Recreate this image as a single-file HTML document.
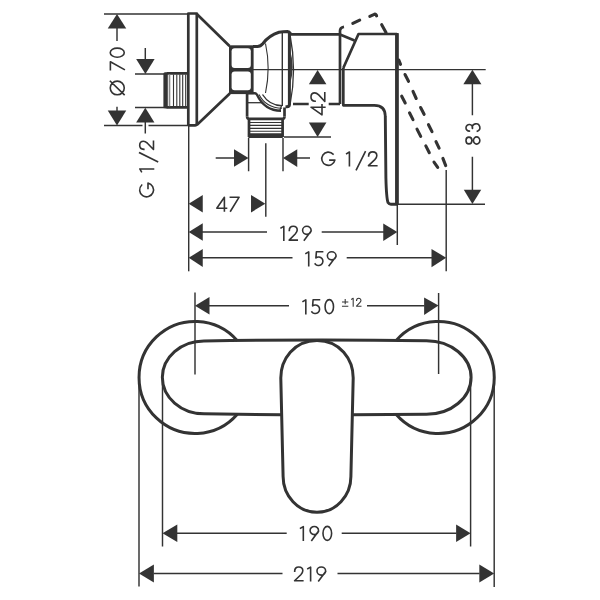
<!DOCTYPE html>
<html><head><meta charset="utf-8">
<style>
html,body{margin:0;padding:0;background:#fff;width:600px;height:600px;overflow:hidden}
svg{display:block}
</style></head><body>
<svg width="600" height="600" viewBox="0 0 600 600">
<rect width="600" height="600" fill="#fff"/>
<g fill="none" stroke="#333" stroke-width="1.45">
  <path d="M104 13.9H188"/>
  <path d="M104 125.5H142.5M148.5 125.5H188"/>
  <path d="M117 28V41M117 106.7V111"/>
  <path d="M135 73.9H164M135 107.5H164"/>
  <path d="M145.3 48V59M145.3 122V133.5"/>
  <path d="M188.7 125V271.3"/>
  <path d="M265.8 143.3V216.7"/>
  <path d="M248.6 138V171.3M283 138V171.3"/>
  <path d="M215.7 158H235M297 158H310"/>
  <path d="M284 137H331"/>
  <path d="M252 69.6H485.7"/>
  <path d="M472.4 84V115.3M472.4 156.7V190"/>
  <path d="M397 204.2H485"/>
  <path d="M397.3 204V245M446.2 170V271.2"/>
  <path d="M202 232H267M321.7 232H384"/>
  <path d="M202 257.8H292.5M346.7 257.8H432"/>
  <path d="M195 292.5V374.5M438.6 293V374"/>
  <path d="M209 305.8H289M367 305.8H424.5"/>
  <path d="M162.5 378V546.4M139 378V586.4M470.6 378V546.4M494.2 378V587"/>
  <path d="M177 533.3H286.7M341.7 533.3H456.5"/>
  <path d="M153.6 573.4H282.5M337.5 573.4H479.6"/>
</g>
<g fill="#333">
  <polygon points="117,13.9 107.76,28.49 126.24,28.49"/>
  <polygon points="117,125.5 107.76,110.51 126.24,110.51"/>
  <polygon points="145.4,73.9 136.16,58.91 154.64,58.91"/>
  <polygon points="145.3,107.8 136.16,122.59 154.44,122.59"/>
  <polygon points="188.7,203.8 202.78,194.88 202.78,212.41"/>
  <polygon points="265.3,203.8 251.02,194.88 251.02,212.41"/>
  <polygon points="188.7,232 202.78,223.28 202.78,240.72"/>
  <polygon points="188.7,257.8 202.78,249.08 202.78,266.93"/>
  <polygon points="248.5,158 234.02,149.28 234.02,166.72"/>
  <polygon points="283,158 297.28,149.18 297.28,167.03"/>
  <polygon points="317.6,70 308.88,84.28 326.42,84.28"/>
  <polygon points="317.6,137 308.88,122.41 326.42,122.41"/>
  <polygon points="472.4,69.7 463.37,84.29 481.43,84.29"/>
  <polygon points="472.4,204 463.79,189.72 481.22,189.72"/>
  <polygon points="397.3,232 383.22,223.59 383.22,240.92"/>
  <polygon points="446.2,257.7 431.51,249.08 431.51,267.14"/>
  <polygon points="195,305.8 209.48,297.08 209.48,314.62"/>
  <polygon points="438.5,305.6 424.12,297.6 424.12,315.03"/>
  <polygon points="162.5,533.3 177.29,524.59 177.29,542.01"/>
  <polygon points="139,573.4 153.89,564.58 153.89,582.43"/>
  <polygon points="470.6,533.3 456.12,524.59 456.12,542.01"/>
  <polygon points="494.2,573.5 479.31,564.58 479.31,582.42"/>
</g>
<!-- side view object -->
<g fill="none" stroke="#333" stroke-width="2.7" stroke-linejoin="round">
  <path d="M188.3 125.3V13.5H196.8V123.5Q196.8 125.3 195 125.3H188.3"/>
  <path d="M196.8 14L229.5 46M196.8 125L229.8 93.6"/>
  <path d="M188 73.3H166.5M188 107.4H166.5"/>
  <path d="M253 46.5H257.5Q260.5 46.5 263 43.5Q269 35.5 279 32.3Q283 31.5 287.5 31.5Q289.4 31.7 289.4 34V104.5Q289.4 106.8 287 106.8H285.5" stroke-width="3"/>
  <path d="M288.5 31.6L291.6 34.4H340"/>
  <path d="M293 104H308.7M328.7 104H340"/>
  <path d="M246 93.2H255Q256.5 93.4 257 94.8C259.5 100 266 110.8 281 110.8" stroke-width="2.4"/>
  <path d="M247.1 116.5V93"/>
  <path d="M284.5 107.5V116.5"/>
  <path d="M247.1 116.5Q247.1 118.8 249.2 118.8H282.4Q284.5 118.8 284.5 116.5M249 118.8V137M282.6 118.8V137"/>
  <path d="M340 104V31Q340 27.6 344 26.9"/>
  <path d="M343.3 68V105.3H374.3Q385.3 105.3 385.3 116.3"/>
  <path d="M340 34.5L354.5 40.5"/>
  <path d="M343.3 68L358.5 34H397"/>
  <path d="M397 34V204.2H391Q389 204.2 388 202.5Q386.4 198 385.9 178L385.3 116" stroke-width="2.9"/>
</g>
<rect x="163.4" y="72.3" width="4.4" height="36.2" rx="1.6" fill="#333"/>
<rect x="395.1" y="33" width="3.6" height="171.6" fill="#333"/>
<g>
  <rect x="229" y="45.3" width="24.6" height="48.8" fill="#333"/>
  <rect x="231.6" y="48.2" width="19.2" height="19.8" rx="3" fill="#fff"/>
  <rect x="231.6" y="71.4" width="19.2" height="18.8" rx="3" fill="#fff"/>
</g>
<g fill="none" stroke="#333" stroke-width="1.1">
  <path d="M282.3 33V106" stroke-width="1.4"/>
  <path d="M290 34.5Q297 70 290 105" stroke-width="1.3"/><path d="M290 50Q295 66 290.3 84Z" fill="#3a3a3a" stroke="none"/><path d="M281.5 106L279.6 111" stroke-width="1.2"/>
  <path d="M265.5 43.5Q270.8 68 265.5 93"/>
  <path d="M169.5 74.5V106.3" stroke="#888" stroke-width="1.6"/>
  <path d="M173.5 74.5V106.3M176.8 74.5V106.3M179.8 74.5V106.3M182.7 74.5V106.3M185.7 74.5V106.3"/>
  <path d="M249 122.5H282.6M249 125.4H282.6M249 128.3H282.6M249 131.2H282.6" stroke-width="1.15"/>
  <path d="M247.5 102.7H262" stroke-width="1.3"/>
  <path d="M262.5 94.5C265 98.5 271 105.5 282 105.8" stroke-width="1.4"/><path d="M259 94.5C261.5 99.5 268 107.8 282 108.3"/>
</g>
<rect x="248" y="133.2" width="35.2" height="4.9" rx="1.6" fill="#333"/>
<!-- dashed lever -->
<g fill="none" stroke="#333" stroke-width="3.1" stroke-linecap="round" stroke-linejoin="round">
  <path d="M352.8 23.4L359.7 20.1M369.8 16.4L374.3 14.3Q375.6 13.9 376.3 15L376.6 15.9M381.7 24.7L386 32.5"/>
  <path d="M398.8 60.0L400.5 64.4M405.0 74.5L408.5 81.3M413.0 91.4L416.2 98.5M420.6 107.5L424.1 114.3M428.5 124.7L432.0 131.6M436.0 141.6L439.1 148.2M442.9 158.4L445.7 165.6"/>
  <path d="M401.7 96.2L405.2 103.0M409.5 112.8L413.0 119.6M417.0 129.1L420.7 136.4M425.8 145.9L429.3 152.7M434.0 162.1L437.7 167.4"/>
</g>
<!-- front view -->
<g fill="none" stroke="#333" stroke-width="3">
  <path d="M237.3 340.7A56 56 0 1 0 237.3 414.2"/>
  <path d="M396 340.7A56 56 0 1 1 396 414.2"/>
  <path d="M281 414.8Q241 414.3 204 413.8A41.6 36.4 0 0 1 204 340.9Q316 339.2 426.5 340.7A44.5 36.7 0 0 1 426.5 414.3Q389 414.6 352 414.8"/>
  <path d="M317 340.6C340 340.6 353.2 359.5 353.2 378L350.9 476.5C350.9 496 335.8 512.3 317 512.3C298.2 512.3 283.1 496 283.1 476.5L280.8 378C280.8 359.5 294 340.6 317 340.6Z"/>
</g>

<g fill="none" stroke="#333" stroke-width="1.6" stroke-linecap="square" stroke-linejoin="round">
<path transform="translate(216 196.4)" d="M8.4 14.65 V0.78 L0.78 11.8 H10.52"/>
<path transform="translate(229.6 196.4)" d="M0.78 0.78 H9.52 L0.98 14.65"/>
<path transform="translate(321 151.1)" d="M12.08 2.97 A6.62 6.62 0 1 0 13.88 9.03 H8.9"/>
<path transform="translate(345.9 151.1)" d="M0.78 2.5 L3.52 0.88 V14.6"/>
<path transform="translate(355.6 151.1)" d="M9.62 0.78 L0.78 18.6"/>
<path transform="translate(367.7 151.1)" d="M0.88 4.9 C0.88 2.2 2.78 0.78 5 0.78 C7.22 0.78 9.12 2.2 9.12 4.6 C9.12 6.3 8.22 7.3 7.12 8.5 L0.78 14.58 H9.12"/>
<path transform="translate(280.3 225.5)" d="M0.78 2.5 L3.52 0.88 V14.6"/>
<path transform="translate(288.4 225.5)" d="M0.88 4.9 C0.88 2.2 2.78 0.78 4.85 0.78 C6.92 0.78 8.82 2.2 8.82 4.6 C8.82 6.3 7.92 7.3 6.82 8.5 L0.78 14.58 H8.82"/>
<path transform="translate(301.8 225.5)" d="M0.78 4.83 A4.27 4.05 0 1 0 9.32 4.83 A4.27 4.05 0 1 0 0.78 4.83 Z M9.27 5.53 L2.5 14.6"/>
<path transform="translate(305.2 251)" d="M0.78 2.5 L3.52 0.88 V14.6"/>
<path transform="translate(314.3 251)" d="M8.27 0.78 H2.1 L1.6 6.9 A4.3 4.3 0 1 1 0.9 12.9"/>
<path transform="translate(326.6 251)" d="M0.78 4.83 A4.32 4.05 0 1 0 9.42 4.83 A4.32 4.05 0 1 0 0.78 4.83 Z M9.37 5.53 L2.5 14.6"/>
<path transform="translate(302.3 299)" d="M0.78 2.5 L3.52 0.88 V14.6"/>
<path transform="translate(311 299)" d="M8.47 0.78 H2.1 L1.6 6.9 A4.3 4.3 0 1 1 0.9 12.9"/>
<path transform="translate(324.3 299)" d="M0.78 7.65 A4.22 7 0 1 0 9.22 7.65 A4.22 7 0 1 0 0.78 7.65 Z"/>
<path transform="translate(299.8 525.7)" d="M0.78 2.5 L3.52 0.88 V14.6"/>
<path transform="translate(309.3 525.7)" d="M0.78 4.83 A4.22 4.05 0 1 0 9.22 4.83 A4.22 4.05 0 1 0 0.78 4.83 Z M9.17 5.53 L2.5 14.6"/>
<path transform="translate(322.2 525.7)" d="M0.78 7.65 A4.32 7 0 1 0 9.42 7.65 A4.32 7 0 1 0 0.78 7.65 Z"/>
<path transform="translate(293.8 566.2)" d="M0.88 4.9 C0.88 2.2 2.78 0.78 4.95 0.78 C7.12 0.78 9.02 2.2 9.02 4.6 C9.02 6.3 8.12 7.3 7.02 8.5 L0.78 14.58 H9.02"/>
<path transform="translate(307.1 566.2)" d="M0.78 2.5 L3.52 0.88 V14.6"/>
<path transform="translate(316.2 566.2)" d="M0.78 4.83 A4.32 4.05 0 1 0 9.42 4.83 A4.32 4.05 0 1 0 0.78 4.83 Z M9.37 5.53 L2.5 14.6"/>
<g transform="translate(124.9 95.7) rotate(-90)">
<path transform="translate(0 -15.3)" d="M0.88 7.65 A6.87 7 0 1 0 14.62 7.65 A6.87 7 0 1 0 0.88 7.65 Z M1.08 14.5 L14.42 0.8"/>
<path transform="translate(25.2 -15.3)" d="M0.78 0.78 H8.82 L0.98 14.65"/>
<path transform="translate(37.7 -15.3)" d="M0.78 7.65 A4.57 7 0 1 0 9.92 7.65 A4.57 7 0 1 0 0.78 7.65 Z"/>
</g>
<g transform="translate(154.2 197.6) rotate(-90)">
<path transform="translate(0 -15.3)" d="M12.59 2.76 A6.92 6.92 0 1 0 14.47 9.09 H9.2"/>
<path transform="translate(25.15 -15.3)" d="M0.78 2.5 L3.52 0.88 V14.6"/>
<path transform="translate(35.2 -15.3)" d="M9.62 0.78 L0.78 18.6"/>
<path transform="translate(47.3 -15.3)" d="M0.88 4.9 C0.88 2.2 2.78 0.78 5 0.78 C7.22 0.78 9.12 2.2 9.12 4.6 C9.12 6.3 8.22 7.3 7.12 8.5 L0.78 14.58 H9.12"/>
</g>
<g transform="translate(325.5 115.6) rotate(-90)">
<path transform="translate(0 -15.3)" d="M8.4 14.65 V0.78 L0.78 11.8 H10.82"/>
<path transform="translate(13.4 -15.3)" d="M0.88 4.9 C0.88 2.2 2.78 0.78 5.1 0.78 C7.42 0.78 9.32 2.2 9.32 4.6 C9.32 6.3 8.42 7.3 7.32 8.5 L0.78 14.58 H9.32"/>
</g>
<g transform="translate(480.5 145) rotate(-90)">
<path transform="translate(0.1 -15.3)" d="M1.03 3.73 A3.37 2.95 0 1 0 7.77 3.73 A3.37 2.95 0 1 0 1.03 3.73 Z M0.78 11.45 A3.62 3.2 0 1 0 8.02 11.45 A3.62 3.2 0 1 0 0.78 11.45 Z"/>
<path transform="translate(13.1 -15.3)" d="M0.8 4.2 A3.3 3.3 0 1 1 3.53 7.33 L3.77 7.09 A3.8 3.8 0 1 1 0.73 12.15"/>
</g>
<path d="M345.2 299.5V303.6M342.5 302H347.8M342.5 306.2H347.8" stroke-width="1.05"/>
<g transform="translate(351.15 297.73) scale(0.58)" stroke-width="1.81">
<path d="M0.78 2.5 L3.52 0.88 V14.6"/>
<path transform="translate(8.4 0)" d="M0.88 4.9 C0.88 2.2 2.78 0.78 4.7 0.78 C6.62 0.78 8.52 2.2 8.52 4.6 C8.52 6.3 7.62 7.3 6.52 8.5 L0.78 14.58 H8.52"/>
</g>
</g>
</svg>
</body></html>
